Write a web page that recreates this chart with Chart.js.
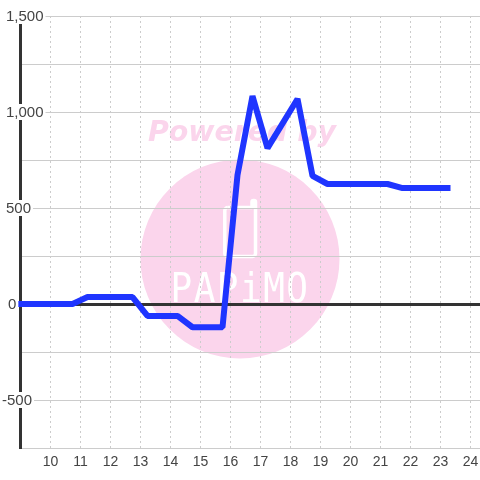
<!DOCTYPE html>
<html>
<head>
<meta charset="utf-8">
<style>
  html, body { margin: 0; padding: 0; background: #fff; }
  canvas { display: block; }
</style>
<script src="https://cdn.jsdelivr.net/npm/chart.js@4"></script>
</head>
<body>
<canvas id="chart" width="480" height="480"></canvas>
<script>
const hours = [9, 10.75, 11.25, 12.75, 13.25, 14.25, 14.75, 15.75, 16.25, 16.75, 17.25, 18.25, 18.75, 19.25, 21.25, 21.75, 23.25]
const values = [0, 0, 36, 36, -62, -62, -121, -121, 672, 1083, 812, 1068, 667, 625, 625, 604, 604]
// left edge of the y labels, the original does not line them up
const labelLeft = { "-500": 2, "0": 8 }

// watermark sits under the grid
const watermark = {
    id: "watermark",
    beforeDraw(chart) {
        const ctx = chart.ctx
        ctx.save()
        ctx.fillStyle = "#fbd5ec"
        ctx.beginPath()
        ctx.arc(240, 259, 99.5, 0, Math.PI * 2)
        ctx.fill()

        ctx.font = "italic bold 28.4px 'DejaVu Sans'"
        ctx.textAlign = "center"
        ctx.textBaseline = "middle"
        ctx.fillText("Powered by", 242, 134)

        ctx.strokeStyle = "#fff"
        ctx.lineWidth = 3.5
        ctx.lineJoin = "round"
        ctx.beginPath()
        ctx.moveTo(228, 207.5)
        ctx.lineTo(252, 207.5)
        ctx.lineTo(252, 202)
        ctx.arcTo(252, 200.5, 254, 200.5, 1.5)
        ctx.arcTo(255.5, 200.5, 255.5, 203, 1.5)
        ctx.lineTo(255.5, 253)
        ctx.arcTo(255.5, 256.5, 252, 256.5, 3)
        ctx.lineTo(228, 256.5)
        ctx.arcTo(224.8, 256.5, 224.8, 253, 3)
        ctx.lineTo(224.8, 211)
        ctx.arcTo(224.8, 207.5, 228, 207.5, 3)
        ctx.stroke()

        ctx.fillStyle = "#fff"
        ctx.font = "36px 'DejaVu Sans Mono'"
        ctx.letterSpacing = "1.5px"
        ctx.translate(240, 291)
        ctx.scale(1, 1.15)
        ctx.fillText("PAPiMO", 0, 0)
        ctx.restore()
    }
}

const yLabels = {
    id: "yLabels",
    afterDatasetsDraw(chart) {
        const ctx = chart.ctx
        const scale = chart.scales.y
        ctx.save()
        ctx.font = "15px 'Liberation Sans'"
        ctx.textBaseline = "middle"
        scale.ticks.forEach((tick) => {
            if (!tick.label) return
            const left = labelLeft[tick.label] ?? 6
            const y = scale.getPixelForValue(tick.value)
            const w = ctx.measureText(tick.label).width
            ctx.fillStyle = "#fff"
            ctx.fillRect(left, y - 8, w + 2, 16)
            ctx.fillStyle = "#444"
            ctx.fillText(tick.label, left, y + 1)
        })
        ctx.restore()
    }
}

new Chart(document.getElementById("chart"), {
    type: "line",
    data: {
        datasets: [{
            data: hours.map((h, i) => ({ x: h, y: values[i] })),
            borderColor: "#1f35ff",
            borderWidth: 6,
            borderCapStyle: "square",
            borderJoinStyle: "bevel",
            tension: 0,
            pointRadius: 0,
            clip: false
        }]
    },
    options: {
        responsive: false,
        animation: false,
        layout: { autoPadding: false, padding: { top: 16 } },
        plugins: { legend: { display: false }, tooltip: { enabled: false } },
        scales: {
            x: {
                type: "linear",
                min: 9,
                max: 24.3333,
                afterFit: (scale) => {
                    scale.height = 32
                    scale.paddingLeft = 0
                    scale.paddingRight = 0
                },
                border: { display: false, dash: [2, 3] },
                grid: {
                    color: (c) => c.tick.value === 9 ? "transparent" : "#ccc",
                    drawTicks: false
                },
                ticks: {
                    stepSize: 1,
                    includeBounds: false,
                    maxRotation: 0,
                    autoSkip: false,
                    padding: 6,
                    labelOffset: 0.5,
                    color: "#444",
                    font: { family: "'Liberation Sans'", size: 14 },
                    callback: (v) => v === 9 ? "" : v
                }
            },
            y: {
                min: -750,
                max: 1500,
                afterFit: (scale) => { scale.width = 20 },
                border: { display: true, color: "#333", width: 3 },
                grid: {
                    color: (c) => c.tick.value === 0 ? "#333" : "#ccc",
                    lineWidth: (c) => c.tick.value === 0 ? 3 : 1,
                    drawTicks: false
                },
                ticks: {
                    display: false,
                    stepSize: 250,
                    autoSkip: false,
                    callback: (v) => v % 500 === 0 ? v.toLocaleString("en-US") : ""
                }
            }
        }
    },
    plugins: [watermark, yLabels]
})
</script>
</body>
</html>
